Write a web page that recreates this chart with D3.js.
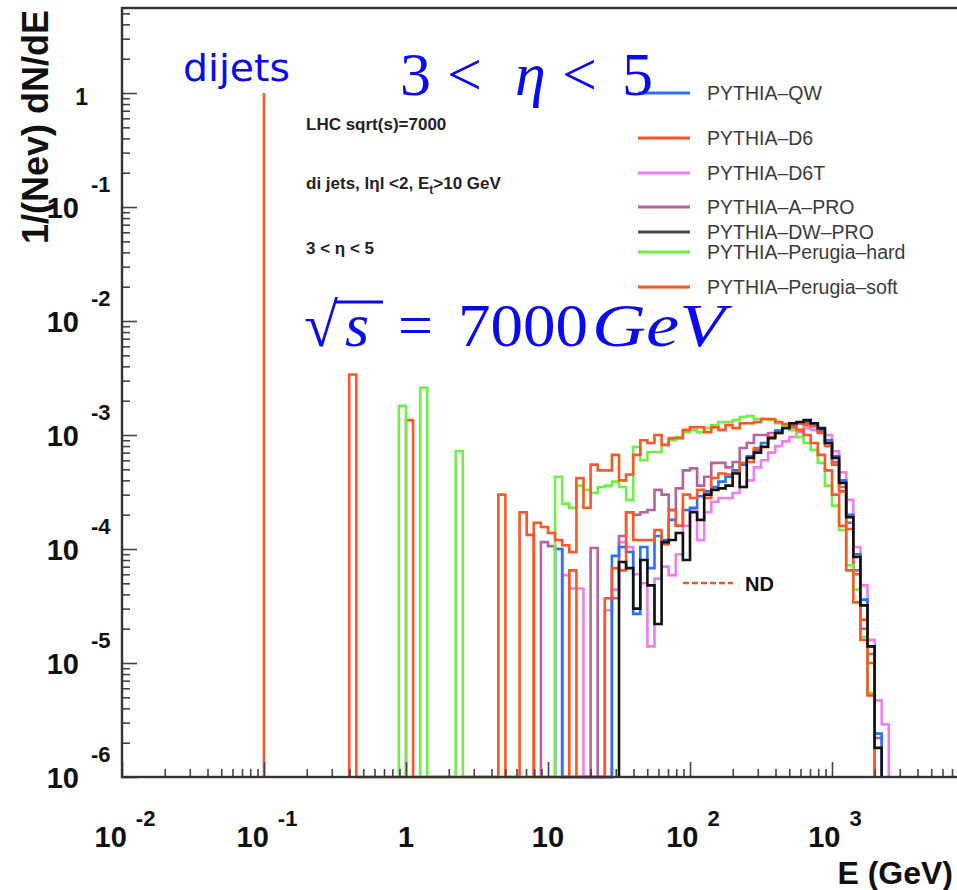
<!DOCTYPE html>
<html>
<head>
<meta charset="utf-8">
<script src="https://cdn.jsdelivr.net/npm/d3@7"></script>
<style>
  body { margin: 0; background: #fff; }
  svg { display: block; }
</style>
</head>
<body>
<div id="chart"></div>
<script>
// log bins, 20 per decade: bin k covers [10^(k/20), 10^((k+1)/20)] GeV
var binsPerDecade = 20;

var tuneNames = ["PYTHIA\u2013QW", "PYTHIA\u2013D6", "PYTHIA\u2013D6T", "PYTHIA\u2013A\u2013PRO",
                 "PYTHIA\u2013DW\u2013PRO", "PYTHIA\u2013Perugia\u2013hard", "PYTHIA\u2013Perugia\u2013soft"];

// first bin index of each tune, then 1/Nev dN/dE per bin (0 = empty bin)
var qwStart = 21;
var qwValues = [1.0e-4, 0, 0, 0, 0, 0, 0, 0, 8.7e-5, 1.04e-4, 9.4e-5, 2.7e-5, 1.04e-4, 6.8e-5,
  1.3e-4, 1.2e-4, 1.8e-4, 1.6e-4, 2.2e-4, 2.3e-4, 2.9e-4, 3.2e-4, 3.5e-4, 3.9e-4, 4.3e-4,
  4.9e-4, 5.5e-4, 6.5e-4, 7.4e-4, 8.5e-4, 9.6e-4, 1.08e-3, 1.17e-3, 1.22e-3, 1.27e-3, 1.30e-3,
  1.25e-3, 1.11e-3, 9.0e-4, 6.5e-4, 4.0e-4, 2.0e-4, 9.0e-5, 3.6e-5, 1.4e-5, 2.4e-6];

var d6Start = -8;
var d6Values = [3.4e-3, 0, 0, 0, 0, 0, 0, 0, 1.35e-3, 0, 0, 0, 0, 0, 0, 0, 0, 0, 0, 0, 0,
  3.0e-4, 0, 0, 2.1e-4, 1.33e-4, 0, 0, 0, 0, 0, 6.5e-5, 0, 0, 0, 0, 3.7e-5, 6.8e-5, 6.5e-5,
  2.1e-4, 1.2e-4, 1.2e-4, 1.2e-4, 1.47e-4, 1.1e-4, 2.2e-4, 1.6e-4, 3.0e-4, 2.8e-4, 3.3e-4,
  2.8e-4, 4.2e-4, 4.6e-4, 4.5e-4, 4.7e-4, 5.7e-4, 5.8e-4, 7.7e-4, 7.8e-4, 9.6e-4, 1.04e-3,
  1.17e-3, 1.27e-3, 1.27e-3, 1.22e-3, 1.2e-3, 1.04e-3, 8.0e-4, 5.5e-4, 3.2e-4, 1.5e-4, 6.0e-5,
  2.4e-5, 1.0e-5];

var d6tStart = 22;
var d6tValues = [5.9e-5, 4.5e-5, 4.5e-5, 0, 0, 0, 2.9e-5, 4.4e-5, 1.15e-4, 1.04e-4, 6.0e-5,
  5.0e-5, 1.4e-5, 5.5e-5, 7.0e-5, 5.9e-5, 9.0e-5, 1.6e-4, 2.2e-4, 1.2e-4, 2.1e-4, 2.6e-4,
  2.8e-4, 2.8e-4, 3.1e-4, 3.5e-4, 4.0e-4, 5.2e-4, 6.0e-4, 7.0e-4, 8.0e-4, 8.8e-4, 9.6e-4,
  1.06e-3, 1.15e-3, 1.11e-3, 1.06e-3, 1.0e-3, 7.2e-4, 4.7e-4, 2.7e-4, 1.04e-4, 4.8e-5, 1.6e-5,
  4.7e-6, 2.9e-6];

var aproStart = 19;
var aproValues = [1.15e-4, 1.06e-4, 1.0e-4, 0, 0, 0, 0, 1.02e-4, 0, 0, 3.7e-5, 1.3e-4, 2.1e-4,
  2.0e-4, 2.1e-4, 2.2e-4, 3.3e-4, 3.0e-4, 2.2e-4, 3.4e-4, 4.9e-4, 5.1e-4, 3.6e-4, 4.3e-4,
  5.7e-4, 5.7e-4, 5.2e-4, 5.8e-4, 7.7e-4, 8.5e-4, 1.0e-3, 1.0e-3, 1.04e-3, 1.1e-3, 1.22e-3,
  1.27e-3, 1.27e-3, 1.25e-3, 1.2e-3, 1.08e-3, 8.5e-4, 5.8e-4, 3.5e-4, 1.7e-4, 6.5e-5, 2.0e-5,
  1.2e-5, 2.2e-6];

var dwproStart = 30;
var dwproValues = [7.7e-5, 6.8e-5, 3.0e-5, 8.0e-5, 4.8e-5, 2.2e-5, 1.15e-4, 1.2e-4, 1.38e-4,
  8.0e-5, 2.1e-4, 1.8e-4, 3.0e-4, 3.3e-4, 3.4e-4, 3.6e-4, 4.6e-4, 3.5e-4, 6.3e-4, 7.0e-4,
  7.9e-4, 9.4e-4, 1.04e-3, 1.15e-3, 1.27e-3, 1.30e-3, 1.35e-3, 1.27e-3, 1.15e-3, 8.5e-4,
  6.3e-4, 3.8e-4, 1.9e-4, 8.5e-5, 3.2e-5, 1.4e-5, 1.8e-6];

var hardStart = -1;
var hardValues = [1.8e-3, 0, 0, 2.6e-3, 0, 0, 0, 0, 7.2e-4, 0, 0, 0, 0, 0, 0, 0, 0, 0, 0, 0,
  0, 0, 4.3e-4, 2.5e-4, 2.3e-4, 3.6e-4, 3.3e-4, 3.1e-4, 3.5e-4, 3.6e-4, 3.9e-4, 3.5e-4,
  2.7e-4, 7.9e-4, 6.0e-4, 7.1e-4, 7.1e-4, 8.2e-4, 9.0e-4, 9.6e-4, 1.06e-3, 1.11e-3, 1.06e-3,
  1.15e-3, 1.22e-3, 1.30e-3, 1.30e-3, 1.35e-3, 1.44e-3, 1.47e-3, 1.38e-3, 1.38e-3, 1.35e-3,
  1.27e-3, 1.2e-3, 1.11e-3, 9.6e-4, 8.5e-4, 7.4e-4, 5.7e-4, 3.6e-4, 2.4e-4, 1.47e-4, 7.2e-5,
  4.4e-5, 1.7e-5, 5.5e-6];

var softStart = 18;
var softValues = [1.7e-4, 1.56e-4, 1.38e-4, 1.2e-4, 1.08e-4, 9.4e-5, 4.2e-4, 2.3e-4, 5.5e-4,
  4.9e-4, 4.9e-4, 6.7e-4, 4.0e-4, 4.5e-4, 6.7e-4, 9.0e-4, 8.5e-4, 1.0e-3, 8.2e-4, 9.4e-4,
  9.4e-4, 1.11e-3, 1.17e-3, 1.17e-3, 1.06e-3, 1.17e-3, 1.11e-3, 1.22e-3, 1.15e-3, 1.27e-3,
  1.27e-3, 1.30e-3, 1.38e-3, 1.38e-3, 1.30e-3, 1.25e-3, 1.17e-3, 1.11e-3, 1.0e-3, 8.5e-4,
  6.7e-4, 4.9e-4, 3.0e-4, 1.6e-4, 6.5e-5, 3.4e-5, 1.6e-5, 5.2e-6];

// the single dijet entry at 0.1 GeV
var dijetE = [0.1];
var dijetValue = [1];

var xMajor = [1e-2, 1e-1, 1, 10, 100, 1000];
var xExpo = [-2, -1, 0, 1, 2, 3];
var yExpo = [-6, -5, -4, -3, -2, -1, 0];

var colors = ["#2a72f5", "#ff5522", "#f07cf0", "#b8619e", "#111111", "#6ef04a", "#ff5522"];
var legendColors = ["#2a72f5", "#ff5522", "#f07cf0", "#b8619e", "#4a4a4a", "#6ef04a", "#ff5522"];

var series = [
  {start: qwStart, values: qwValues},
  {start: d6Start, values: d6Values},
  {start: d6tStart, values: d6tValues},
  {start: aproStart, values: aproValues},
  {start: dwproStart, values: dwproValues},
  {start: hardStart, values: hardValues},
  {start: softStart, values: softValues}
];
var drawOrder = [2, 3, 0, 1, 5, 6, 4];

var margin = {top: 8, left: 122},
    width = 852,
    height = 769;

var svg = d3.select("#chart")
  .append("svg")
    .attr("width", 957)
    .attr("height", 890);

var g = svg.append("g")
    .attr("transform", "translate(" + margin.left + "," + margin.top + ")");

var x = d3.scaleLog().domain([1e-2, 1e4]).range([0, width]);
var y = d3.scaleLog().domain([1e-6, 5.57]).range([height, 0]);

var binLo = function(k) { return Math.pow(10, k / binsPerDecade); };

// histograms as step outlines, empty bins dropping to the floor
var line = d3.line().x(d => d[0]).y(d => d[1]);
drawOrder.forEach(function(s) {
  var h = series[s];
  var pts = [[x(binLo(h.start)), height]];
  h.values.forEach(function(v, j) {
    var yy = v > 1e-6 ? y(v) : height;
    pts.push([x(binLo(h.start + j)), yy]);
    pts.push([x(binLo(h.start + j + 1)), yy]);
  });
  pts.push([x(binLo(h.start + h.values.length)), height]);
  g.append("path")
    .attr("d", line(pts))
    .attr("fill", "none")
    .attr("stroke", colors[s])
    .attr("stroke-width", 2.6)
    .attr("stroke-linejoin", "miter");
});

g.selectAll(".dijet")
  .data(dijetE)
  .enter().append("line")
    .attr("x1", d => x(d)).attr("x2", d => x(d))
    .attr("y1", height).attr("y2", (d, i) => y(dijetValue[i]))
    .attr("stroke", colors[1])
    .attr("stroke-width", 2.6);

// ticks
var xMinor = [];
xMajor.concat([1e4]).forEach(function(m) {
  for (var k = 2; k <= 9; k++) xMinor.push(m * k);
});
var yMinor = [];
yExpo.forEach(function(e) {
  for (var k = 2; k <= 9; k++) {
    var v = k * Math.pow(10, e);
    if (v < 5.57) yMinor.push(v);
  }
});
var yMajor = yExpo.map(e => Math.pow(10, e));

function tickStyle(sel) {
  sel.select(".domain").remove();
  sel.selectAll("line").attr("stroke", "#444").attr("stroke-width", 1.6);
}

g.append("g").attr("transform", "translate(0," + height + ")")
  .call(d3.axisBottom(x).tickValues(xMinor).tickSize(-8).tickFormat(""))
  .call(tickStyle);
g.append("g").attr("transform", "translate(0," + height + ")")
  .call(d3.axisBottom(x).tickValues(xMajor).tickSize(-15).tickFormat(""))
  .call(tickStyle);
g.append("g")
  .call(d3.axisLeft(y).tickValues(yMinor).tickSize(-8).tickFormat(""))
  .call(tickStyle);
g.append("g")
  .call(d3.axisLeft(y).tickValues(yMajor).tickSize(-15).tickFormat(""))
  .call(tickStyle);

// frame
g.append("rect")
  .attr("width", width).attr("height", height)
  .attr("fill", "none")
  .attr("stroke", "#333")
  .attr("stroke-width", 2.4);

var labelFont = "'Liberation Sans', Arial, Helvetica, sans-serif";

// x tick labels
var xl = g.append("g").attr("font-family", labelFont).attr("font-weight", "bold").attr("fill", "#111");
xMajor.forEach(function(v, i) {
  var e = xExpo[i];
  var t = xl.append("text")
    .attr("x", x(v) + (e === 0 || e === 1 ? 0 : 3))
    .attr("y", height + 70)
    .attr("text-anchor", "middle")
    .attr("font-size", 29);
  if (e === 0) { t.text("1"); return; }
  t.append("tspan").text("10");
  if (e !== 1) {
    t.append("tspan").attr("dx", 9).attr("dy", -21).attr("font-size", 22).text(e);
  }
});

// y tick labels
var yl = g.append("g").attr("font-family", labelFont).attr("font-weight", "bold").attr("fill", "#111");
yExpo.forEach(function(e) {
  var ty = y(Math.pow(10, e));
  if (e === 0) {
    yl.append("text").attr("x", -34).attr("y", ty + 12)
      .attr("text-anchor", "end").attr("font-size", 23).text("1");
    return;
  }
  yl.append("text").attr("x", -43).attr("y", ty + 11)
    .attr("text-anchor", "end").attr("font-size", 29).text("10");
  yl.append("text").attr("x", -31).attr("y", ty - 15)
    .attr("font-size", 22).text(e);
});

// axis titles
svg.append("text")
  .attr("x", 953).attr("y", 884)
  .attr("text-anchor", "end")
  .attr("font-family", labelFont).attr("font-weight", "bold")
  .attr("font-size", 32).attr("fill", "#111")
  .text("E (GeV)");
svg.append("text")
  .attr("transform", "translate(48,10) rotate(-90)")
  .attr("text-anchor", "end")
  .attr("font-family", labelFont).attr("font-weight", "bold")
  .attr("font-size", 36).attr("fill", "#111")
  .text("1/(Nev) dN/dE");

// small black annotations
var ann = svg.append("g").attr("font-family", labelFont).attr("font-weight", "bold")
  .attr("font-size", 17).attr("fill", "#222");
ann.append("text").attr("x", 306).attr("y", 130).text("LHC sqrt(s)=7000");
var dj = ann.append("text").attr("x", 306).attr("y", 189);
dj.append("tspan").text("di jets, l\u03b7l <2, E");
dj.append("tspan").attr("dy", 5).attr("font-size", 12).text("t");
dj.append("tspan").attr("dy", -5).text(">10 GeV");
ann.append("text").attr("x", 306).attr("y", 254).text("3 < \u03b7 < 5");

// legend
var legend = svg.append("g").attr("transform", "translate(638,0)");
var legendY = [93, 138, 173, 207, 232, 252, 287];
tuneNames.forEach(function(name, i) {
  legend.append("line")
    .attr("x1", 0).attr("x2", 52)
    .attr("y1", legendY[i]).attr("y2", legendY[i])
    .attr("stroke", legendColors[i]).attr("stroke-width", 3);
  legend.append("text")
    .attr("x", 69).attr("y", legendY[i] + 7)
    .attr("font-family", "'Liberation Sans', Arial, sans-serif")
    .attr("font-size", 19.5).attr("fill", "#3a3a3a")
    .text(name);
});

// ND marker
svg.append("line")
  .attr("x1", 683).attr("x2", 733).attr("y1", 583).attr("y2", 583)
  .attr("stroke", "#d2603f").attr("stroke-width", 2.6)
  .attr("stroke-dasharray", "6,3");
svg.append("text")
  .attr("x", 745).attr("y", 591)
  .attr("font-family", labelFont).attr("font-weight", "bold")
  .attr("font-size", 20).attr("fill", "#111")
  .text("ND");

// blue overlay labels
var blue = "#0a0af0";
var serif = "'Liberation Serif', 'DejaVu Serif', serif";
svg.append("text")
  .attr("x", 183).attr("y", 81)
  .attr("font-family", "'DejaVu Sans', sans-serif")
  .attr("font-size", 38).attr("fill", blue)
  .attr("textLength", 107).attr("lengthAdjust", "spacingAndGlyphs")
  .text("dijets");

var etaParts = [["3", 400, "normal"], ["<", 447, "normal"], ["\u03b7", 515, "italic"],
                ["<", 562, "normal"], ["5", 622, "normal"]];
svg.append("g").selectAll("text")
  .data(etaParts)
  .enter().append("text")
    .attr("x", d => d[1]).attr("y", 95)
    .attr("font-family", serif).attr("font-size", 62)
    .attr("font-style", d => d[2])
    .attr("fill", blue)
    .text(d => d[0]);

var rootParts = [["\u221a", 304, "normal", null], ["s", 345, "italic", null],
                 ["=", 398, "normal", null], ["7000", 458, "normal", 130],
                 ["GeV", 592, "italic", 133]];
svg.append("g").selectAll("text")
  .data(rootParts)
  .enter().append("text")
    .attr("x", d => d[1]).attr("y", 346)
    .attr("font-family", serif).attr("font-size", 62)
    .attr("font-style", d => d[2])
    .attr("fill", blue)
    .each(function(d) {
      if (d[3]) d3.select(this).attr("textLength", d[3]).attr("lengthAdjust", "spacingAndGlyphs");
    })
    .text(d => d[0]);
svg.append("line")
  .attr("x1", 336).attr("x2", 383).attr("y1", 302).attr("y2", 302)
  .attr("stroke", blue).attr("stroke-width", 3);
</script>
</body>
</html>
